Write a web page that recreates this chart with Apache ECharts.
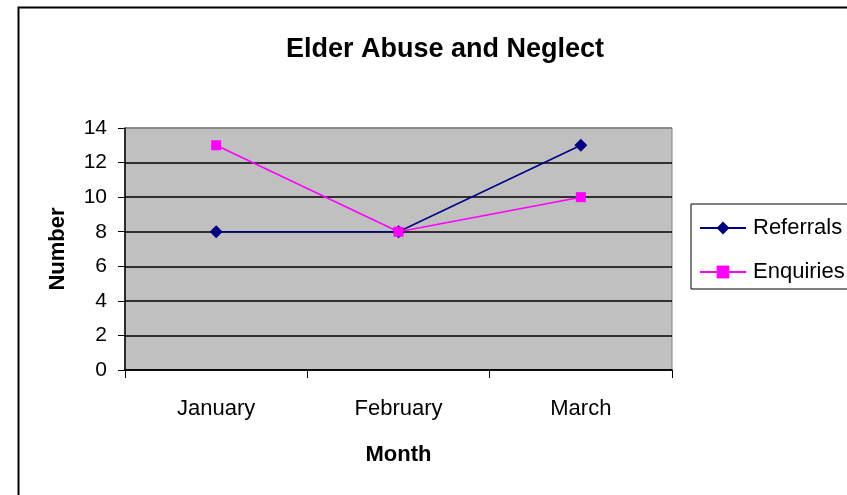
<!DOCTYPE html>
<html lang="en">
<head>
  <meta charset="UTF-8">
  <title>Elder Abuse and Neglect</title>
  <script src="https://cdn.jsdelivr.net/npm/echarts@6/dist/echarts.min.js"></script>
  <style>
    html, body { margin: 0; padding: 0; background: #fff; }
  </style>
</head>
<body>
<div id="main" style="width: 847px;height:495px;"></div>
<script type="text/javascript">

  // data
  var months = ['January', 'February', 'March'];
  var referrals = [8, 8, 13];
  var enquiries = [13, 8, 10];
  var yTicks = [0, 2, 4, 6, 8, 10, 12, 14];

  var myChart = echarts.init(document.getElementById('main'));
  var font = '"Liberation Sans", Arial, sans-serif';

  // split lines are black except the top one (plot border, grey)
  var splitColors = yTicks.map(function (v) {
    return v === yTicks[yTicks.length - 1] ? '#808080' : '#000';
  });

  myChart.setOption({
    backgroundColor: '#fff',
    animation: false,
    textStyle: {fontFamily: font},
    title: {
      text: 'Elder Abuse and Neglect',
      left: 440,
      top: 31,
      textAlign: 'center',
      textStyle: {fontSize: 27, fontWeight: 'bold', color: '#000', fontFamily: font}
    },
    graphic: [{
      // outer chart frame (only top and left edges visible)
      type: 'rect',
      shape: {x: 18.5, y: 7.5, width: 900, height: 600},
      style: {fill: null, stroke: '#000', lineWidth: 2},
      silent: true
    }],
    legend: {
      orient: 'vertical',
      left: 691,
      top: 204,
      padding: [13, 30, 6, 8],
      itemGap: 22,
      itemWidth: 46,
      itemHeight: 16,
      borderColor: '#000',
      borderWidth: 1,
      backgroundColor: '#fff',
      textStyle: {fontSize: 22, lineHeight: 22, color: '#000', fontFamily: font, padding: [0, 0, 0, 2]},
      data: ['Referrals', 'Enquiries']
    },
    grid: {
      left: 125,
      right: 175,
      top: 128,
      bottom: 125,
      show: true,
      backgroundColor: '#c0c0c0',
      borderColor: '#808080',
      borderWidth: 1
    },
    xAxis: {
      type: 'category',
      data: months,
      boundaryGap: true,
      name: 'Month',
      nameLocation: 'middle',
      nameGap: 74,
      nameTextStyle: {fontSize: 22, fontWeight: 'bold', color: '#000', fontFamily: font},
      axisLine: {lineStyle: {color: '#000', width: 1.5}},
      axisTick: {show: true, length: 8, lineStyle: {color: '#000'}},
      axisLabel: {fontSize: 22, color: '#000', margin: 28, fontFamily: font},
      splitLine: {show: false}
    },
    yAxis: {
      type: 'value',
      min: 0,
      max: 14,
      interval: 2,
      name: 'Number',
      nameLocation: 'middle',
      nameGap: 56,
      nameTextStyle: {fontSize: 22, fontWeight: 'bold', color: '#000', fontFamily: font},
      axisLine: {show: true, lineStyle: {color: '#000', width: 1.5}},
      axisTick: {show: true, inside: false, length: 7, lineStyle: {color: '#000'}},
      axisLabel: {fontSize: 21, color: '#000', margin: 18, fontFamily: font},
      splitLine: {show: true, lineStyle: {color: splitColors, width: 1.5}}
    },
    series: [
      {
        name: 'Referrals',
        type: 'line',
        data: referrals,
        symbol: 'diamond',
        symbolSize: 13,
        lineStyle: {color: '#000080', width: 1.5},
        itemStyle: {color: '#000080'},
        z: 3
      },
      {
        name: 'Enquiries',
        type: 'line',
        data: enquiries,
        symbol: 'rect',
        symbolSize: 10,
        lineStyle: {color: '#ff00ff', width: 1.5},
        itemStyle: {color: '#ff00ff'},
        z: 4
      }
    ]
  });

</script>
</body>
</html>
